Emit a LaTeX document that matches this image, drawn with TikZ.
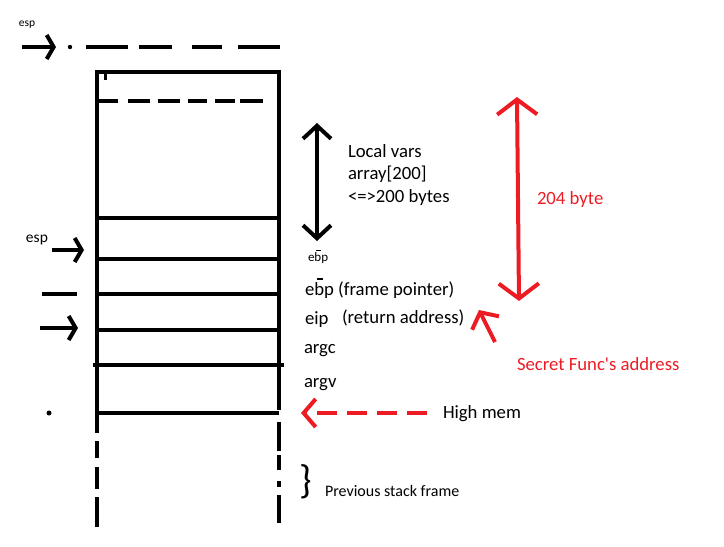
\documentclass[tikz,border=0pt]{standalone}
\usepackage{fontspec}
\setmainfont{Carlito}
\usetikzlibrary{arrows.meta, positioning}
\definecolor{paintred}{RGB}{237,28,36}
\newcommand{\barredb}{\leavevmode\rlap{\raisebox{1.75ex}{\kern0.12em\rule{0.38em}{0.09em}}}b}
\newcommand{\markedb}{\leavevmode\rlap{\raisebox{1.7ex}{\kern0.14em\rule{0.3em}{0.12em}}}b}

\begin{document}
\begin{tikzpicture}[x=1pt, y=-1pt, line width=4pt,
    every node/.style={inner sep=0pt, anchor=west, font=\fontsize{18.7}{22.5}\selectfont},
    smallbarb/.style={-{Straight Barb[length=7pt,width=24pt]}},
    bigbarb/.style={{Straight Barb[length=13pt,width=28pt]}-{Straight Barb[length=13pt,width=28pt]}},
    redbarb/.style={paintred, {Straight Barb[length=15pt,width=40pt]}-{Straight Barb[length=15pt,width=40pt]}},
    redtxt/.style={text=paintred}]
    \useasboundingbox (0,0) rectangle (724,547);

    % Stack frame
    \draw (97,70) -- (97,433);
    \draw (279,70) -- (279,410);
    \draw (97,72) -- (279,72);
    \draw[line width=3pt] (105,74) -- (105,80);
    \foreach \y in {218,259,294,330,413}
        \draw (97,\y) -- (279,\y);
    \draw (93,365) -- (284,365);
    \foreach \a/\b in {97/118,128/150,158/180,188/207,215/235,240/263}
        \draw (\a,101) -- (\b,101);
    \foreach \a/\b in {441/458,467/489,497/527}
        \draw (97,\a) -- (97,\b);
    \foreach \a/\b in {422/451,455/470,481/487,495/523}
        \draw (279,\a) -- (279,\b);

    % Top esp
    \node[font=\fontsize{11.5}{13}\selectfont] (esptop) at (17,25) {esp};
    \coordinate (esptopA) at (22,47);
    \coordinate (esptopB) at (56,47);
    \draw[smallbarb] (esptopA) -- (esptopB);
    \fill (70,47) circle (2.2pt);
    \foreach \a/\b in {86/128,139/172,192/222,238/280}
        \draw (\a,47) -- (\b,47);

    % Left marks
    \node[font=\fontsize{15.5}{17}\selectfont] (espmid) at (24,240) {esp};
    \coordinate (espmidA) at (52,250);
    \coordinate (espmidB) at (84,250);
    \draw[smallbarb] (espmidA) -- (espmidB);
    \draw (42,294) -- (77,294);
    \coordinate (markA) at (40,328);
    \coordinate (markB) at (78,328);
    \draw[smallbarb] (markA) -- (markB);
    \fill (49,413) circle (2.5pt);

    % Local vars
    \coordinate (lvtop) at (317,123);
    \coordinate (lvbot) at (317,241);
    \draw[bigbarb] (lvtop) -- (lvbot);
    \node[align=left] (localvars) at (346,175) {Local vars\\array[200]\\<=>200 bytes};

    % Slot labels
    \node[font=\fontsize{13}{15}\selectfont] (ebpsmall) at (306,257) {e\barredb p};
    \node (ebp) at (303,288) {e\markedb p (frame pointer)};
    \node (eip) at (303,320) {eip};
    \node (ret) at (340,318) {(return address)};
    \node (argc) at (302,351) {argc};
    \node (argv) at (302,385) {argv};

    % 204 byte
    \coordinate (redtop) at (517,97);
    \coordinate (redbot) at (519,301);
    \draw[redbarb] (redtop) -- (redbot);
    \node[redtxt] (bytes) at (535,200) {204 byte};

    % Secret address
    \node[redtxt] (secret) at (515,364) {Secret Func\textquotesingle s address};
    \coordinate (secretA) at (495,342);
    \coordinate (secretB) at (479,310);
    \draw[paintred, -{Straight Barb[length=12pt,width=30pt]}] (secretA) -- (secretB);

    % High mem
    \node (highmem) at (441,414) {High mem};
    \coordinate (hmtail) at (427,413);
    \coordinate (hmtip) at (301,413);
    \draw[paintred, dash pattern=on 20pt off 10pt, -{Straight Barb[length=12pt,width=28pt]}] (hmtail) -- (hmtip);

    % Previous frame
    \node[font=\fontsize{40}{40}\selectfont] (brace) at (297,482) {\}};
    \node[font=\fontsize{16}{18}\selectfont] (prev) at (323,491) {Previous stack frame};
\end{tikzpicture}
\end{document}
